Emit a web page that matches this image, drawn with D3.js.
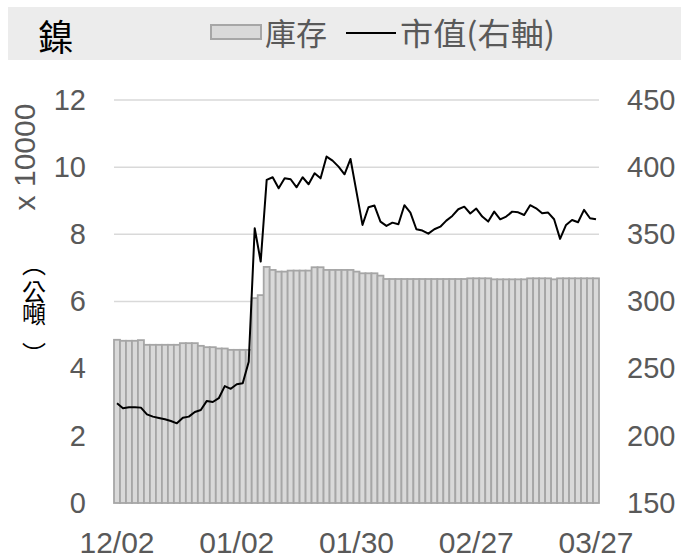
<!DOCTYPE html>
<html>
<head>
<meta charset="utf-8">
<script src="https://cdn.jsdelivr.net/npm/d3@7"></script>
<style>
  body { margin: 0; background: #fff; }
  text { font-family: "Liberation Sans", Arial, sans-serif; }
  .cjk { font-family: "Noto Sans CJK TC", "Noto Sans CJK SC", sans-serif; }
</style>
</head>
<body>
<div id="chart"></div>
<script>
const dates = [
  "12/02","12/03","12/04","12/05","12/06","12/09","12/10","12/11","12/12","12/13",
  "12/16","12/17","12/18","12/19","12/20","12/23","12/24","12/27","12/30","12/31",
  "01/02","01/03","01/06","01/07","01/08","01/09","01/10","01/13","01/14","01/15",
  "01/16","01/17","01/20","01/21","01/22","01/23","01/24","01/27","01/28","01/29",
  "01/30","01/31","02/03","02/04","02/05","02/06","02/07","02/10","02/11","02/12",
  "02/13","02/14","02/17","02/18","02/19","02/20","02/21","02/24","02/25","02/26",
  "02/27","02/28","03/03","03/04","03/05","03/06","03/07","03/10","03/11","03/12",
  "03/13","03/14","03/17","03/18","03/19","03/20","03/21","03/24","03/25","03/26",
  "03/27"
];

// 庫存 (x 10000 公噸)
const inventory = [
  4.86,4.83,4.83,4.83,4.85,4.71,4.71,4.71,4.71,4.71,
  4.71,4.76,4.76,4.76,4.68,4.64,4.64,4.60,4.60,4.56,
  4.56,4.56,4.56,6.10,6.19,7.03,6.94,6.89,6.89,6.92,
  6.92,6.92,6.92,7.02,7.02,6.94,6.94,6.94,6.94,6.94,
  6.89,6.84,6.84,6.84,6.77,6.67,6.67,6.67,6.67,6.67,
  6.67,6.67,6.67,6.67,6.67,6.67,6.67,6.67,6.67,6.69,
  6.69,6.69,6.69,6.66,6.66,6.66,6.66,6.66,6.66,6.69,
  6.69,6.69,6.69,6.66,6.69,6.69,6.69,6.69,6.69,6.69,
  6.69
];

// 市值 (右軸)
const marketValue = [
  224.2,220.5,221.3,221.3,221.0,216.0,214.3,213.3,212.3,211.0,
  209.3,213.5,214.3,217.8,219.2,226.0,225.2,228.0,237.0,235.0,
  238.4,239.1,255.2,354.5,329.7,390.5,392.5,384.3,391.7,391.0,
  385.0,392.5,387.3,395.5,391.7,407.9,404.9,400.4,394.7,406.1,
  381.6,357.0,370.2,371.4,359.5,356.3,358.7,357.5,371.7,366.2,
  353.8,352.8,350.5,353.8,355.7,360.2,363.7,368.7,370.6,365.5,
  369.2,363.2,359.5,366.9,361.2,363.2,366.9,366.4,364.4,371.7,
  369.4,365.7,366.2,361.2,346.6,357.0,360.7,359.0,368.2,362.0,
  361.2
];

const leftTicks = [0, 2, 4, 6, 8, 10, 12];
const rightTicks = [150, 200, 250, 300, 350, 400, 450];
const xTickLabels = ["12/02", "01/02", "01/30", "02/27", "03/27"];

const width = 681, height = 560;
const plot = { left: 114, right: 599, top: 100, bottom: 503 };

const svg = d3.select("#chart").append("svg")
  .attr("width", width)
  .attr("height", height);

// header band
svg.append("rect")
  .attr("x", 8).attr("y", 7)
  .attr("width", 673).attr("height", 53)
  .attr("fill", "#ececec");

svg.append("text")
  .attr("class", "cjk")
  .attr("x", 38).attr("y", 51)
  .attr("font-size", 36)
  .attr("fill", "#000")
  .text("鎳");

// legend
svg.append("rect")
  .attr("x", 211).attr("y", 25)
  .attr("width", 50).attr("height", 14)
  .attr("fill", "#d9d9d9")
  .attr("stroke", "#a6a6a6")
  .attr("stroke-width", 2);
svg.append("text")
  .attr("class", "cjk")
  .attr("x", 265).attr("y", 45)
  .attr("font-size", 31)
  .attr("fill", "#595959")
  .text("庫存");
svg.append("line")
  .attr("x1", 346).attr("x2", 396)
  .attr("y1", 33).attr("y2", 33)
  .attr("stroke", "#000")
  .attr("stroke-width", 2);
svg.append("text")
  .attr("class", "cjk")
  .attr("x", 400).attr("y", 45)
  .attr("font-size", 31)
  .attr("fill", "#595959")
  .attr("textLength", 155)
  .attr("lengthAdjust", "spacingAndGlyphs")
  .text("市值(右軸)");

// scales
const x = d3.scaleBand()
  .domain(dates)
  .range([plot.left, plot.right])
  .padding(0);

const yL = d3.scaleLinear().domain([0, 12]).range([plot.bottom, plot.top]);
const yR = d3.scaleLinear().domain([150, 450]).range([plot.bottom, plot.top]);

// gridlines
svg.append("g")
  .selectAll("line")
  .data(leftTicks.filter(d => d > 0))
  .join("line")
  .attr("x1", plot.left).attr("x2", plot.right)
  .attr("y1", d => yL(d)).attr("y2", d => yL(d))
  .attr("stroke", "#d9d9d9")
  .attr("stroke-width", 1.5);

// bars
svg.append("g")
  .selectAll("rect")
  .data(inventory)
  .join("rect")
  .attr("x", (d, i) => x(dates[i]))
  .attr("width", x.bandwidth())
  .attr("y", d => yL(d))
  .attr("height", d => yL(0) - yL(d))
  .attr("fill", "#d9d9d9")
  .attr("stroke", "#a6a6a6")
  .attr("stroke-width", 1.8);

// market value line
const line = d3.line()
  .x((d, i) => x(dates[i]) + x.bandwidth() / 2)
  .y(d => yR(d));

svg.append("path")
  .datum(marketValue)
  .attr("d", line)
  .attr("fill", "none")
  .attr("stroke", "#000")
  .attr("stroke-width", 2)
  .attr("stroke-linejoin", "round");

// left axis
const axisL = svg.append("g")
  .attr("transform", `translate(${plot.left - 28},0)`)
  .call(d3.axisLeft(yL).tickValues(leftTicks).tickSize(0).tickPadding(0));
axisL.select(".domain").remove();
axisL.selectAll("text")
  .attr("font-size", 29)
  .attr("fill", "#595959")
  .attr("font-family", "Liberation Sans, Arial, sans-serif");

// right axis
const axisR = svg.append("g")
  .attr("transform", `translate(${plot.right + 28},0)`)
  .call(d3.axisRight(yR).tickValues(rightTicks).tickSize(0).tickPadding(0));
axisR.select(".domain").remove();
axisR.selectAll("text")
  .attr("font-size", 29)
  .attr("fill", "#595959")
  .attr("font-family", "Liberation Sans, Arial, sans-serif");

// bottom axis
const axisB = svg.append("g")
  .attr("transform", `translate(0,${plot.bottom + 29})`)
  .call(d3.axisBottom(x).tickValues(xTickLabels).tickSize(0).tickPadding(0));
axisB.select(".domain").remove();
axisB.selectAll("text")
  .attr("font-size", 30)
  .attr("fill", "#595959")
  .attr("dy", "0.71em")
  .attr("font-family", "Liberation Sans, Arial, sans-serif");

// y axis title
svg.append("text")
  .attr("transform", "translate(35,157) rotate(-90)")
  .attr("text-anchor", "middle")
  .attr("font-size", 30)
  .attr("fill", "#595959")
  .text("x 10000");

// （公噸） stacked vertically with vertical-form brackets
const unitChars = [
  { ch: "︵", y: 262 },
  { ch: "公", y: 290 },
  { ch: "噸", y: 312 },
  { ch: "︶", y: 352 }
];
svg.append("g")
  .selectAll("text")
  .data(unitChars)
  .join("text")
  .attr("class", "cjk")
  .attr("x", 34)
  .attr("y", d => d.y)
  .attr("text-anchor", "middle")
  .attr("dominant-baseline", "central")
  .attr("font-size", 24)
  .attr("fill", "#000")
  .text(d => d.ch);
</script>
</body>
</html>
